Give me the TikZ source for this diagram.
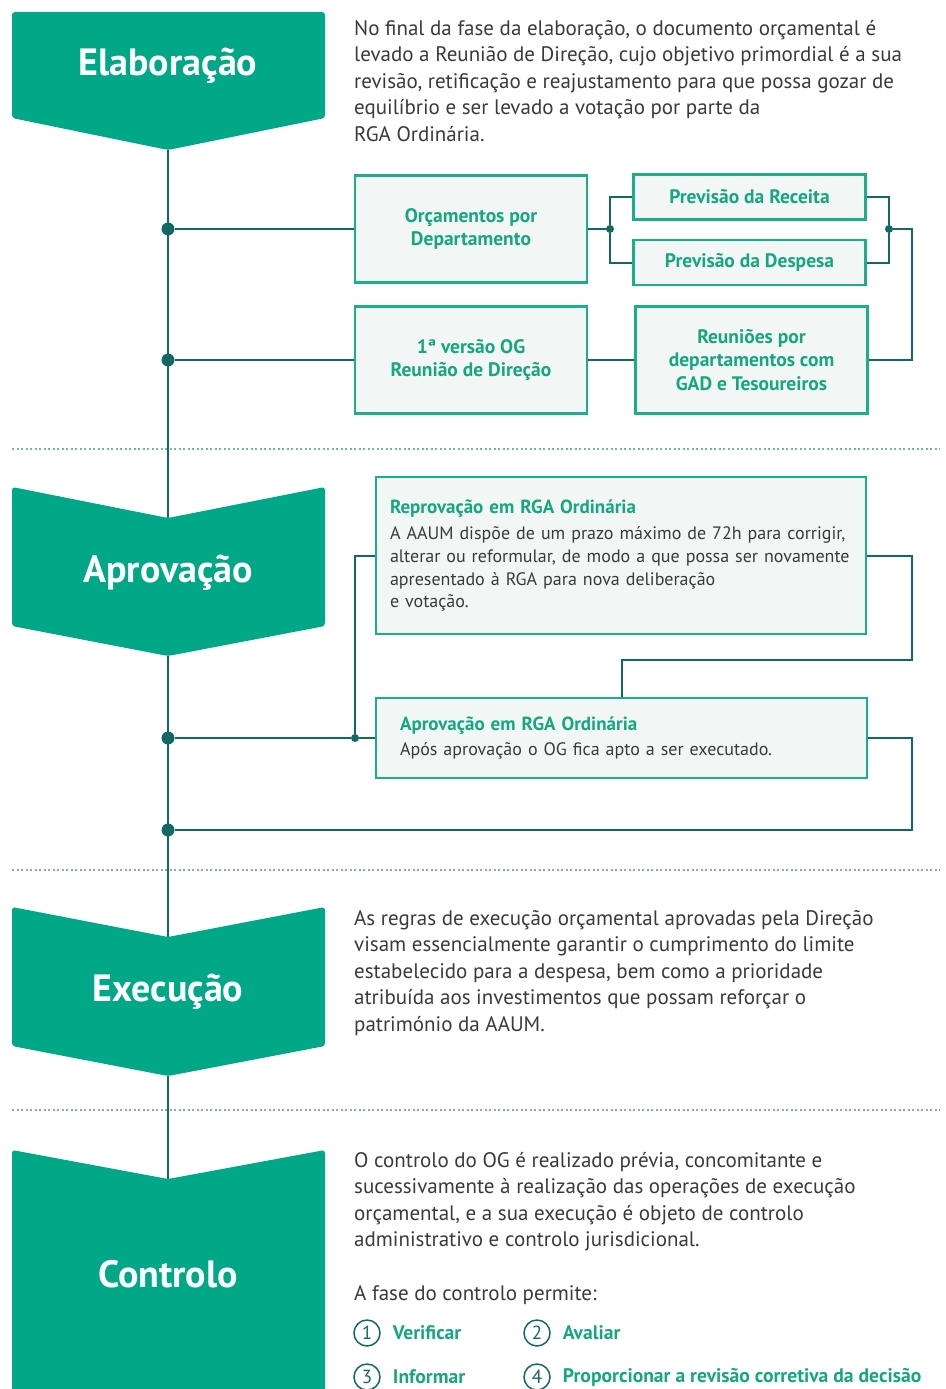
\documentclass[tikz,border=0pt]{standalone}
\usepackage{fontspec}
\setmainfont{PT Sans}
\usetikzlibrary{positioning,calc}
\definecolor{aaumgreen}{RGB}{0,168,135}
\definecolor{lineteal}{RGB}{18,104,98}
\definecolor{boxgreen}{RGB}{26,174,140}
\definecolor{boxfill}{RGB}{242,247,245}
\definecolor{boxtext}{RGB}{22,166,128}
\definecolor{bodygray}{RGB}{58,58,58}
\definecolor{septeal}{RGB}{125,178,172}
\begin{document}
\begin{tikzpicture}[x=1pt, y=-1pt,
      banner/.style={fill=aaumgreen, rounded corners=3pt},
      phase/.style={text=white, font=\bfseries\fontsize{38}{44}\selectfont},
      para/.style={anchor=north west, inner sep=0pt, align=left, text=bodygray, font=\fontsize{21}{26.5}\selectfont},
      box/.style={draw=boxgreen, line width=2.5pt, fill=boxfill, text=boxtext, align=center, font=\bfseries\fontsize{19.5}{23.5}\selectfont, minimum width=232pt},
      note/.style={draw=boxgreen, line width=2.5pt, fill=boxfill, text=bodygray, align=left, font=\fontsize{18}{22.7}\selectfont},
      link/.style={draw=lineteal, line width=2pt},
      dot/.style={circle, fill=lineteal, inner sep=0pt, minimum size=13pt},
      sep/.style={draw=septeal, line width=1.2pt, dash pattern=on 2pt off 2.5pt},
      num/.style={circle, draw=lineteal, line width=1.5pt, text=lineteal, inner sep=0pt, minimum size=26pt, font=\fontsize{19}{20}\selectfont},
      item/.style={text=boxtext, inner sep=0pt, font=\bfseries\fontsize{19.6}{20}\selectfont}]
      \useasboundingbox (0,0) rectangle (945,1389);

      \draw[sep] (12,449) -- (940,449);
      \draw[sep] (12,870) -- (940,870);
      \draw[sep] (12,1110) -- (940,1110);

      \coordinate (elab_tip) at (168,150);
      \coordinate (apro_notch) at (168,518);
      \coordinate (apro_tip) at (168,656);
      \coordinate (exec_notch) at (168,937);
      \coordinate (exec_tip) at (168,1076);
      \coordinate (ctrl_notch) at (168,1179);

      \draw[link] (elab_tip) -- (apro_notch);
      \draw[link] (apro_tip) -- (exec_notch);
      \draw[link] (exec_tip) -- (ctrl_notch);

      \fill[banner] (12,12) -- (325,12) -- (325,118) -- (elab_tip) -- (12,118) -- cycle;
      \fill[banner] (12,487) -- (apro_notch) -- (325,487) -- (325,626) -- (apro_tip) -- (12,626) -- cycle;
      \fill[banner] (12,907) -- (exec_notch) -- (325,907) -- (325,1046) -- (exec_tip) -- (12,1046) -- cycle;
      \fill[banner] (12,1150) -- (ctrl_notch) -- (325,1150) -- (325,1420) -- (12,1420) -- cycle;

      \node[phase] (elab) at (168,66) {Elaboração};
      \node[phase] (apro) at (168,573) {Aprovação};
      \node[phase] (exec) at (168,992) {Execução};
      \node[phase] (ctrl) at (168,1274) {Controlo};

      \node[para] (elab_text) at (354,20) {No final da fase da elaboração, o documento orçamental é\\
        levado a Reunião de Direção, cujo objetivo primordial é a sua\\
        revisão, retificação e reajustamento para que possa gozar de\\
        equilíbrio e ser levado a votação por parte da\\
        RGA Ordinária.};

      \node[box, minimum height=107pt] (orc) at (471,229) {Orçamentos por\\Departamento};
      \node[box, minimum height=107pt] (versao) at (471,360) {1ª versão OG\\Reunião de Direção};
      \node[box, minimum height=107pt, right=46pt of versao] (reun) {Reuniões por\\departamentos com\\GAD e Tesoureiros};
      \node[box, minimum height=45pt] (rec) at (749.5,197) {Previsão da Receita};
      \node[box, minimum height=45pt, below=18pt of rec] (desp) {Previsão da Despesa};

      \node[dot] (d1) at (168,229) {};
      \node[dot] (d2) at (168,360) {};
      \node[dot, minimum size=8pt] (jl) at (610,229) {};
      \node[dot, minimum size=8pt] (jr) at (889,229) {};
      \coordinate (bend1) at (912,229);

      \draw[link] (d1) -- (orc.west);
      \draw[link] (orc.east) -- (jl);
      \draw[link] (jl) |- (rec.west);
      \draw[link] (jl) |- (desp.west);
      \draw[link] (rec.east) -| (jr);
      \draw[link] (desp.east) -| (jr);
      \draw[link] (jr) -- (bend1) |- (reun.east);
      \draw[link] (reun.west) -- (versao.east);
      \draw[link] (versao.west) -- (d2);

      \node[note, minimum width=490pt, minimum height=157pt, text width=462pt] (repro) at (621,555.5) {{\fontsize{19}{22.7}\selectfont\bfseries\color{boxtext}Reprovação em RGA Ordinária}\\[4pt]
        A AAUM dispõe de um prazo máximo de 72h para corrigir,\\
        alterar ou reformular, de modo a que possa ser novamente\\
        apresentado à RGA para nova deliberação\\
        e votação.};
      \node[note, minimum width=491pt, minimum height=80pt, text width=443pt] (aprov) at (621.5,738) {{\fontsize{19}{22.7}\selectfont\bfseries\color{boxtext}Aprovação em RGA Ordinária}\\[3pt]
        Após aprovação o OG fica apto a ser executado.};

      \node[dot] (d3) at (168,738) {};
      \node[dot] (d4) at (168,830) {};
      \node[dot, minimum size=8pt] (ja) at (355,738) {};
      \coordinate (bend2) at (912,660);
      \coordinate (bend3) at (912,830);

      \draw[link] (d3) -- (ja) -- (aprov.west);
      \draw[link] (ja) |- (repro.west);
      \draw[link] (repro.east) -| (bend2) -| (aprov.north);
      \draw[link] (aprov.east) -| (bend3) -- (d4);

      \node[para] (exec_text) at (354,910) {As regras de execução orçamental aprovadas pela Direção\\
        visam essencialmente garantir o cumprimento do limite\\
        estabelecido para a despesa, bem como a prioridade\\
        atribuída aos investimentos que possam reforçar o\\
        património da AAUM.};

      \node[para] (ctrl_text) at (354,1152) {O controlo do OG é realizado prévia, concomitante e\\
        sucessivamente à realização das operações de execução\\
        orçamental, e a sua execução é objeto de controlo\\
        administrativo e controlo jurisdicional.};
      \node[para] (ctrl_list) at (354,1285) {A fase do controlo permite:};

      \node[num] (n1) at (367,1333) {1};
      \node[num] (n2) at (537,1333) {2};
      \node[num] (n3) at (367,1377) {3};
      \node[num] (n4) at (537,1377) {4};
      \node[item, right=12pt of n1] (verificar) {Verificar};
      \node[item, right=12pt of n2] (avaliar) {Avaliar};
      \node[item, right=12pt of n3] (informar) {Informar};
      \node[item, right=12pt of n4] (proporcionar) {Proporcionar a revisão corretiva da decisão};
    \end{tikzpicture}
\end{document}
